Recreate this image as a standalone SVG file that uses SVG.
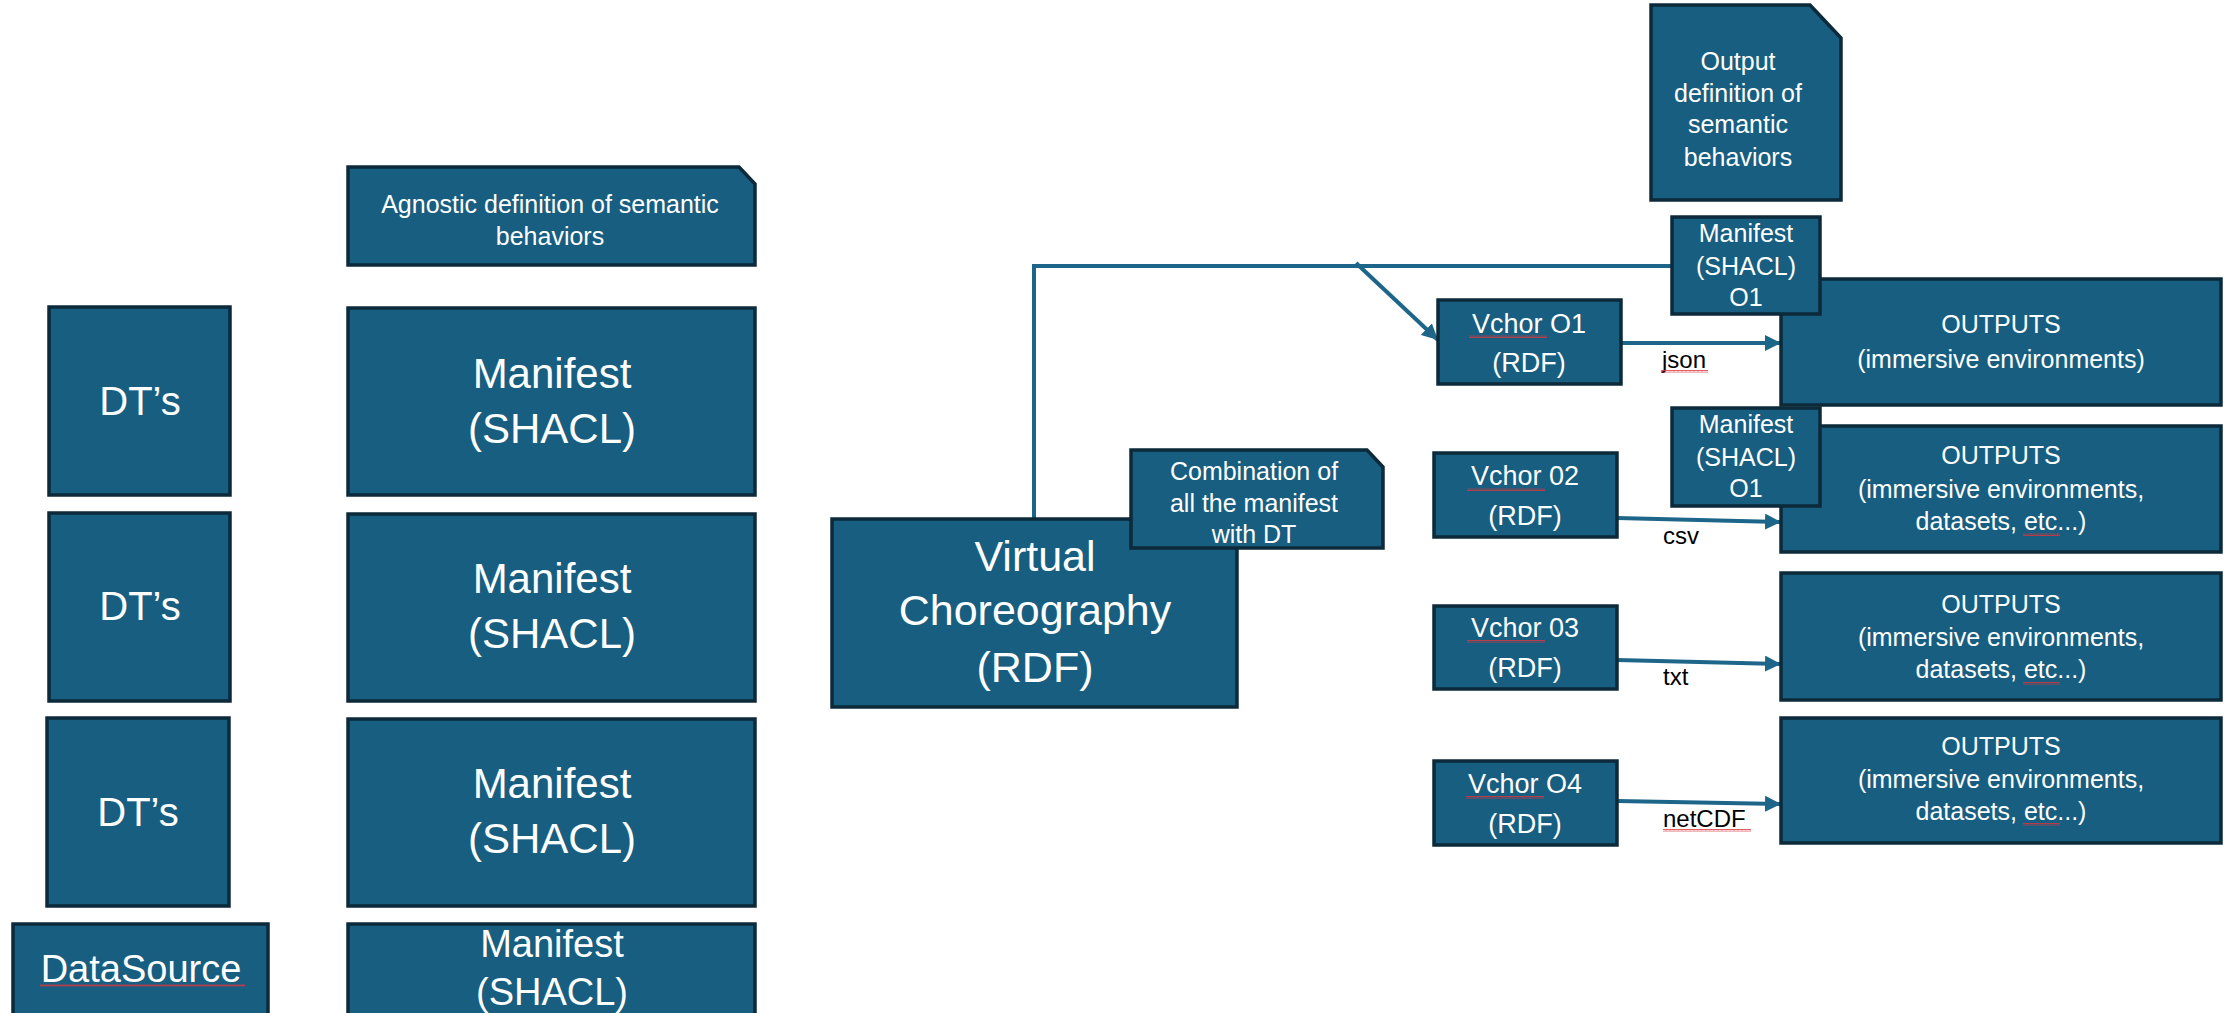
<svg xmlns="http://www.w3.org/2000/svg" width="2229" height="1013" viewBox="0 0 2229 1013">
<style>
.b{fill:#175e80;stroke:#0c2a3a;stroke-width:3.5}
.t{fill:#ffffff;font-family:"Liberation Sans",Arial,sans-serif;text-anchor:middle}
.l{fill:#000000;font-family:"Liberation Sans",Arial,sans-serif;font-size:24px}
.c{fill:none;stroke:#1d6689;stroke-width:4}
.sq{fill:url(#wave)}
</style>
<defs>
<marker id="ah" markerUnits="userSpaceOnUse" markerWidth="18" markerHeight="18" refX="16" refY="8" orient="auto">
<path d="M0,0 L16,8 L0,16 z" fill="#1d6689"/>
</marker>
<pattern id="wave" width="4" height="3" patternUnits="userSpaceOnUse">
<path d="M0,2.5 L1,0.5 L2,2.5 L3,0.5 L4,2.5" fill="none" stroke="#d9363e" stroke-width="0.8"/>
</pattern>
</defs>

<g id="connectors">
<path class="c" d="M1034,519 V266 H1672"/>
<path class="c" d="M1356,263 L1438,340" marker-end="url(#ah)"/>
<path class="c" d="M1621,343 H1781" marker-end="url(#ah)"/>
<path class="c" d="M1617,518 L1781,522" marker-end="url(#ah)"/>
<path class="c" d="M1617,660 L1781,664" marker-end="url(#ah)"/>
<path class="c" d="M1617,801 L1781,804" marker-end="url(#ah)"/>
<text class="l" x="1662" y="368">json</text>
<rect class="sq" x="1661" y="370" width="47" height="3"/>
<text class="l" x="1663" y="544">csv</text>
<text class="l" x="1663" y="685">txt</text>
<text class="l" x="1663" y="827">netCDF</text>
<rect class="sq" x="1663" y="829" width="88" height="3"/>
</g>

<g id="agnostic">
<path class="b" d="M348,167 H739 L755,184 V265 H348 Z"/>
<text class="t" font-size="25" x="550" y="213">Agnostic definition of semantic</text>
<text class="t" font-size="25" x="550" y="245">behaviors</text>
</g>

<g id="dt1">
<rect class="b" x="49" y="307" width="181" height="188"/>
<text class="t" font-size="40" x="140" y="415">DT’s</text>
</g>
<g id="manifest1">
<rect class="b" x="348" y="308" width="407" height="187"/>
<text class="t" font-size="42" x="552" y="388">Manifest</text>
<text class="t" font-size="42" x="552" y="443">(SHACL)</text>
</g>

<g id="dt2">
<rect class="b" x="49" y="513" width="181" height="188"/>
<text class="t" font-size="40" x="140" y="620">DT’s</text>
</g>
<g id="manifest2">
<rect class="b" x="348" y="514" width="407" height="187"/>
<text class="t" font-size="42" x="552" y="593">Manifest</text>
<text class="t" font-size="42" x="552" y="648">(SHACL)</text>
</g>

<g id="dt3">
<rect class="b" x="47" y="718" width="182" height="188"/>
<text class="t" font-size="40" x="138" y="826">DT’s</text>
</g>
<g id="manifest3">
<rect class="b" x="348" y="719" width="407" height="187"/>
<text class="t" font-size="42" x="552" y="798">Manifest</text>
<text class="t" font-size="42" x="552" y="853">(SHACL)</text>
</g>

<g id="datasource">
<rect class="b" x="13" y="924" width="255" height="95"/>
<text class="t" font-size="38" x="141" y="982">DataSource</text>
<rect class="sq" x="40" y="984" width="205" height="3"/>
</g>
<g id="manifest4">
<rect class="b" x="348" y="924" width="407" height="95"/>
<text class="t" font-size="38" x="552" y="957">Manifest</text>
<text class="t" font-size="38" x="552" y="1005">(SHACL)</text>
</g>

<g id="virtual-choreography">
<rect class="b" x="832" y="519" width="405" height="188"/>
<text class="t" font-size="43" x="1035" y="571">Virtual</text>
<text class="t" font-size="43" x="1035" y="625">Choreography</text>
<text class="t" font-size="43" x="1035" y="682">(RDF)</text>
</g>
<g id="combination">
<path class="b" d="M1131,450 H1367 L1383,467 V548 H1131 Z"/>
<text class="t" font-size="25" x="1254" y="480">Combination of</text>
<text class="t" font-size="25" x="1254" y="512">all the manifest</text>
<text class="t" font-size="25" x="1254" y="543">with DT</text>
</g>

<g id="output-definition">
<path class="b" d="M1651,5 H1810 L1841,38 V200 H1651 Z"/>
<text class="t" font-size="25" x="1738" y="70">Output</text>
<text class="t" font-size="25" x="1738" y="102">definition of</text>
<text class="t" font-size="25" x="1738" y="133">semantic</text>
<text class="t" font-size="25" x="1738" y="166">behaviors</text>
</g>

<g id="outputs1">
<rect class="b" x="1781" y="279" width="440" height="126"/>
<text class="t" font-size="25" x="2001" y="333">OUTPUTS</text>
<text class="t" font-size="25" x="2001" y="368">(immersive environments)</text>
</g>
<g id="manifest-o1-a">
<rect class="b" x="1672" y="217" width="148" height="97"/>
<text class="t" font-size="25" x="1746" y="242">Manifest</text>
<text class="t" font-size="25" x="1746" y="275">(SHACL)</text>
<text class="t" font-size="25" x="1746" y="306">O1</text>
</g>
<g id="vchor-o1">
<rect class="b" x="1438" y="300" width="183" height="84"/>
<text class="t" font-size="27" x="1529" y="333">Vchor O1</text>
<text class="t" font-size="27" x="1529" y="372">(RDF)</text>
<rect class="sq" x="1469" y="335" width="78" height="3"/>
</g>

<g id="outputs2">
<rect class="b" x="1781" y="426" width="440" height="126"/>
<text class="t" font-size="25" x="2001" y="464">OUTPUTS</text>
<text class="t" font-size="25" x="2001" y="498">(immersive environments,</text>
<text class="t" font-size="25" x="2001" y="530">datasets, etc...)</text>
<rect class="sq" x="2023" y="533" width="37" height="3"/>
</g>
<g id="manifest-o1-b">
<rect class="b" x="1672" y="408" width="148" height="98"/>
<text class="t" font-size="25" x="1746" y="433">Manifest</text>
<text class="t" font-size="25" x="1746" y="466">(SHACL)</text>
<text class="t" font-size="25" x="1746" y="497">O1</text>
</g>
<g id="vchor-02">
<rect class="b" x="1434" y="453" width="183" height="84"/>
<text class="t" font-size="27" x="1525" y="485">Vchor 02</text>
<text class="t" font-size="27" x="1525" y="525">(RDF)</text>
<rect class="sq" x="1467" y="488" width="78" height="3"/>
</g>

<g id="outputs3">
<rect class="b" x="1781" y="573" width="440" height="127"/>
<text class="t" font-size="25" x="2001" y="613">OUTPUTS</text>
<text class="t" font-size="25" x="2001" y="646">(immersive environments,</text>
<text class="t" font-size="25" x="2001" y="678">datasets, etc...)</text>
<rect class="sq" x="2023" y="682" width="37" height="3"/>
</g>
<g id="vchor-03">
<rect class="b" x="1434" y="606" width="183" height="83"/>
<text class="t" font-size="27" x="1525" y="637">Vchor 03</text>
<text class="t" font-size="27" x="1525" y="677">(RDF)</text>
<rect class="sq" x="1467" y="640" width="78" height="3"/>
</g>

<g id="outputs4">
<rect class="b" x="1781" y="718" width="440" height="125"/>
<text class="t" font-size="25" x="2001" y="755">OUTPUTS</text>
<text class="t" font-size="25" x="2001" y="788">(immersive environments,</text>
<text class="t" font-size="25" x="2001" y="820">datasets, etc...)</text>
<rect class="sq" x="2023" y="823" width="37" height="3"/>
</g>
<g id="vchor-o4">
<rect class="b" x="1434" y="761" width="183" height="84"/>
<text class="t" font-size="27" x="1525" y="793">Vchor O4</text>
<text class="t" font-size="27" x="1525" y="833">(RDF)</text>
<rect class="sq" x="1466" y="796" width="78" height="3"/>
</g>
</svg>
